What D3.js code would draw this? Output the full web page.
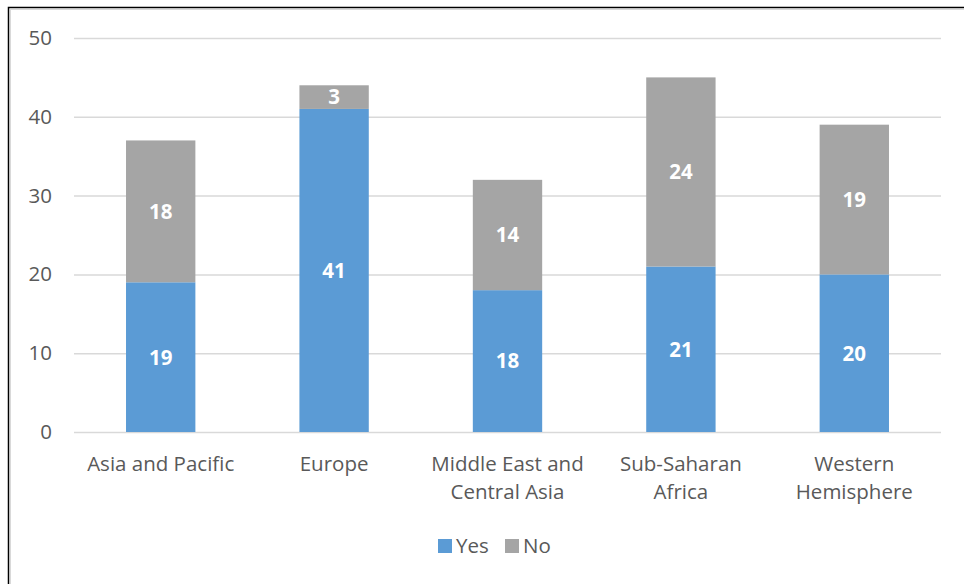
<!DOCTYPE html>
<html>
<head>
<meta charset="utf-8">
<script src="https://cdn.jsdelivr.net/npm/d3@7"></script>
<style>
  body { margin: 0; background: #fff; }
  text { font-family: 'Open Sans', sans-serif; }
</style>
</head>
<body>
<div id="chart"></div>
<script>
// data
const categories = [
  ['Asia and Pacific'],
  ['Europe'],
  ['Middle East and', 'Central Asia'],
  ['Sub-Saharan', 'Africa'],
  ['Western', 'Hemisphere'],
]
const yesValues = [19, 41, 18, 21, 20]
const noValues = [18, 3, 14, 24, 19]
const seriesNames = ['Yes', 'No']
const seriesColors = ['#5b9bd5', '#a5a5a5']
const yTicks = [0, 10, 20, 30, 40, 50]

const width = 964
const height = 584
const plot = { left: 74, right: 941, top: 38, bottom: 432 }
const fontSize = 20.5

const svg = d3.select('#chart')
  .append('svg')
  .attr('width', width)
  .attr('height', height)

// outer frame
svg.append('rect')
  .attr('x', 8.5).attr('y', 7.5)
  .attr('width', width + 10).attr('height', height + 10)
  .attr('fill', 'none')
  .attr('stroke', '#000')
  .attr('stroke-width', 1.5)
svg.append('rect')
  .attr('x', 10.5).attr('y', 9.5)
  .attr('width', width + 10).attr('height', height + 10)
  .attr('fill', 'none')
  .attr('stroke', '#d9d9d9')
  .attr('stroke-width', 1)

const keys = categories.map((c) => c.join(' '))
const rows = keys.map((k, i) => ({ key: k, Yes: yesValues[i], No: noValues[i] }))
const stacked = d3.stack().keys(seriesNames)(rows)

const xScale = d3.scaleBand()
  .domain(keys)
  .range([plot.left, plot.right])
  .paddingInner(0.6)
  .paddingOuter(0.3)

const yScale = d3.scaleLinear()
  .domain([0, 50])
  .range([plot.bottom, plot.top])

// gridlines + y labels
const yAxis = d3.axisLeft(yScale)
  .tickValues(yTicks)
  .tickSize(-(plot.right - plot.left))
  .tickPadding(22)
const yAxisGroup = svg.append('g')
  .attr('transform', `translate(${plot.left},0)`)
  .call(yAxis)
yAxisGroup.select('.domain').remove()
yAxisGroup.selectAll('line').attr('stroke', '#d9d9d9').attr('stroke-width', 1.5)
yAxisGroup.selectAll('text')
  .attr('fill', '#595959')
  .attr('font-size', fontSize)
  .style('font-family', "'Open Sans', sans-serif")

// bars
const groups = svg.append('g')
  .selectAll('g')
  .data(stacked)
  .join('g')
  .attr('fill', (d, i) => seriesColors[i])

groups.selectAll('rect')
  .data((d) => d)
  .join('rect')
  .attr('x', (d) => xScale(d.data.key))
  .attr('y', (d) => yScale(d[1]))
  .attr('width', xScale.bandwidth())
  .attr('height', (d) => yScale(d[0]) - yScale(d[1]))

groups.selectAll('text')
  .data((d) => d)
  .join('text')
  .attr('x', (d) => xScale(d.data.key) + xScale.bandwidth() / 2)
  .attr('y', (d) => (yScale(d[0]) + yScale(d[1])) / 2)
  .attr('dy', '0.36em')
  .attr('text-anchor', 'middle')
  .attr('fill', '#fff')
  .attr('font-weight', 'bold')
  .attr('font-size', fontSize)
  .text((d) => d[1] - d[0])

// x labels
const xLabels = svg.append('g')
  .selectAll('text')
  .data(categories)
  .join('text')
  .attr('x', (d, i) => xScale(keys[i]) + xScale.bandwidth() / 2)
  .attr('y', 471)
  .attr('text-anchor', 'middle')
  .attr('fill', '#595959')
  .attr('font-size', fontSize)
xLabels.selectAll('tspan')
  .data((d) => d)
  .join('tspan')
  .attr('x', function () { return this.parentNode.getAttribute('x') })
  .attr('dy', (d, i) => (i === 0 ? 0 : 28))
  .text((d) => d)

// legend
const legend = svg.append('g').attr('transform', 'translate(438,546)')
const legendItems = legend.selectAll('g')
  .data(seriesNames)
  .join('g')
  .attr('transform', (d, i) => `translate(${i * 67},0)`)
legendItems.append('rect')
  .attr('x', 0).attr('y', -7)
  .attr('width', 14).attr('height', 14)
  .attr('fill', (d, i) => seriesColors[i])
legendItems.append('text')
  .attr('x', 18)
  .attr('dy', '0.36em')
  .attr('fill', '#595959')
  .attr('font-size', fontSize)
  .text((d) => d)
</script>
</body>
</html>
